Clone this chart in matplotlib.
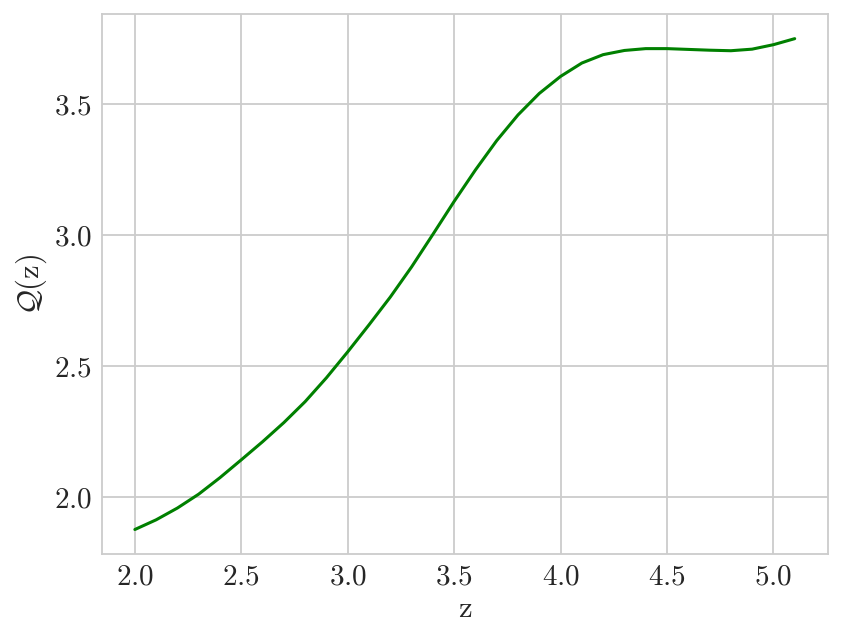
import matplotlib
matplotlib.use("Agg")
import matplotlib.pyplot as plt
import seaborn as sns

z = [2.0, 2.1, 2.2, 2.3, 2.4, 2.5, 2.6, 2.7, 2.8, 2.9, 3.0, 3.1, 3.2, 3.3, 3.4, 3.5,
     3.6, 3.7, 3.8, 3.9, 4.0, 4.1, 4.2, 4.3, 4.4, 4.5, 4.6, 4.7, 4.8, 4.9, 5.0, 5.1]
q = [1.876, 1.913, 1.958, 2.011, 2.074, 2.142, 2.211, 2.284, 2.364, 2.455, 2.554,
     2.657, 2.763, 2.878, 3.002, 3.128, 3.248, 3.360, 3.458, 3.540, 3.605, 3.656,
     3.688, 3.704, 3.711, 3.711, 3.708, 3.705, 3.703, 3.709, 3.726, 3.749]

sns.set_style("whitegrid")
plt.rcParams['font.family'] = 'serif'
plt.rcParams['font.serif'] = ['cmr10', 'DejaVu Serif']
plt.rcParams['mathtext.fontset'] = 'cm'
plt.rcParams['axes.formatter.use_mathtext'] = True

fig = plt.figure(figsize=(8.42, 6.42), dpi=100)
ax = fig.add_axes([0.121, 0.137, 0.862, 0.841])
ax.plot(z, q, color='green', linewidth=2.2)
ax.set_xlabel(r'$\mathrm{z}$', fontsize=22)
ax.set_ylabel(r'$\mathcal{Q}(\mathrm{z})$', fontsize=22)
ax.tick_params(labelsize=21)
ax.set_yticks([2.0, 2.5, 3.0, 3.5])
for s in ax.spines.values():
    s.set_color('#cccccc')
    s.set_linewidth(1.3)
ax.grid(color='#cccccc', linewidth=1.3)
fig.savefig('out.png', dpi=100)
